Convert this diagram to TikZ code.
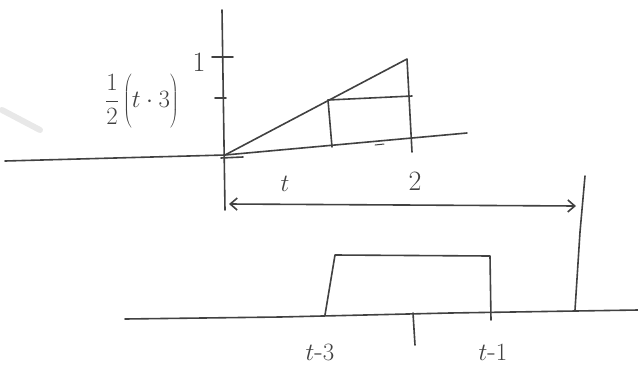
\documentclass[tikz,border=0pt]{standalone}
\usetikzlibrary{arrows.meta}
\definecolor{pencil}{RGB}{65,65,65}
\tikzset{
  pen/.style={draw=pencil, line width=1.6pt, line cap=round, line join=round},
  lbl/.style={text=pencil, font=\fontsize{28}{32}\selectfont, inner sep=0pt}
}
\begin{document}
\begin{tikzpicture}[x=1pt,y=-1pt]
\useasboundingbox (0,0) rectangle (638,365);
% faint smudge
\draw[draw=pencil!12, line width=6pt, line cap=round] (2,110) -- (40,130);
% upper graph
\coordinate (o) at (225,155);
\draw[pen] (5,161) -- (o) -- (467,133);
\draw[pen] (222,10) -- (225,210);
\draw[pen] (212,57) -- (233,57);
\draw[pen] (215,98) -- (226,98);
\draw[pen] (221,158) -- (243,157);
\coordinate (peak) at (407,59);
\draw[pen] (o) -- (peak) -- (412,152);
\coordinate (mid) at (328,100);
\draw[pen] (mid) -- (412,96);
\draw[pen] (mid) -- (332,147);
\draw[pen, line width=1pt] (375,145) -- (384,144);
\node[lbl] (one) at (199,62) {1};
\node[lbl, font=\fontsize{24}{28}\selectfont] (frac) at (142,101) {$\displaystyle\frac{1}{2}\left(\vphantom{\frac{1}{2}}t\cdot 3\right)$};
\node[lbl] (tl) at (285,184) {$t$};
\node[lbl] (two) at (415,181) {2};
% span arrow
\coordinate (al) at (229,204);
\coordinate (ar) at (576,206);
\draw[pen, {Straight Barb[length=7pt,width=12pt]}-{Straight Barb[length=7pt,width=12pt]}] (al) -- (ar);
% right vertical
\draw[pen] (585,176) -- (580,232) -- (575,310);
% lower graph
\draw[pen] (125,319) -- (280,317) -- (450,313) -- (638,310);
\draw[pen] (325,315) -- (335,255) -- (490,256) -- (491,320);
\draw[pen] (413,313) -- (415,345);
\node[lbl] (tm3) at (320,352) {$t\mbox{-}3$};
\node[lbl] (tm1) at (493,352) {$t\mbox{-}1$};
\end{tikzpicture}
\end{document}
